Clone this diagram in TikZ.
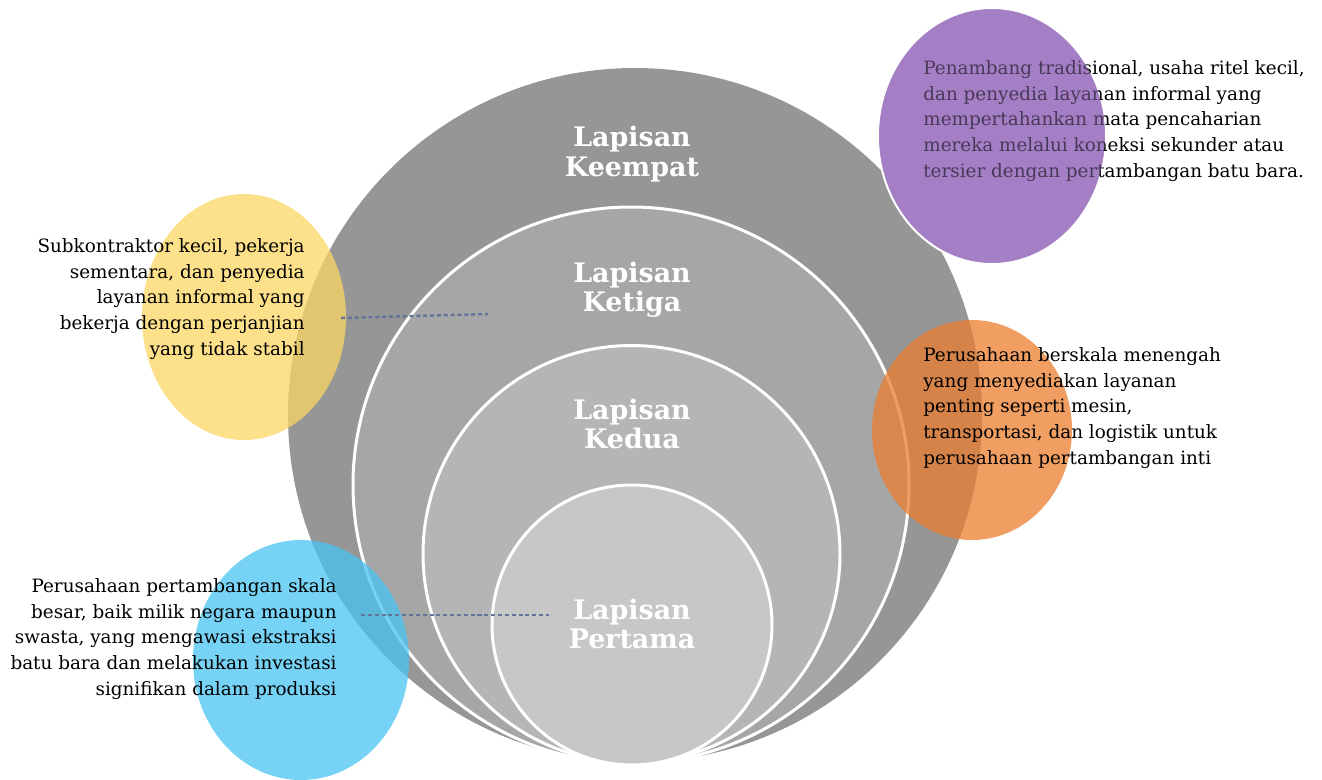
\documentclass[tikz,border=0pt]{standalone}
\usepackage{fontspec}
\setmainfont{DejaVu Serif}
\usetikzlibrary{positioning}
\definecolor{layerfour}{HTML}{969696}
\definecolor{layerthree}{HTML}{A6A6A6}
\definecolor{layertwo}{HTML}{B5B5B5}
\definecolor{layerone}{HTML}{C7C7C7}
\definecolor{yellowblob}{HTML}{FCD563}
\definecolor{blueblob}{HTML}{48C4F1}
\definecolor{orangeblob}{HTML}{EB7D2E}
\definecolor{purpleblob}{HTML}{A47FC5}
\definecolor{dashblue}{HTML}{64759A}
\tikzset{
  ring/.style={draw=white, line width=1.7pt},
  blob/.style={fill opacity=0.75},
  title/.style={text=white, align=center, font=\fontsize{15.3}{16.6}\selectfont\bfseries},
  desc/.style={font=\fontsize{10.45}{14.7}\selectfont},
  dashline/.style={draw=dashblue, line width=1.4pt, dash pattern=on 2.3pt off 1.6pt}
}
\begin{document}
\begin{tikzpicture}[x=0.02cm,y=-0.02cm]
    \tikzstyle{every node}+=[inner sep=0pt]
    \useasboundingbox (0,0) rectangle (1322,779);
    % layers
    \fill [layerfour] (635,415) circle (347);
    \draw [ring, fill=layerthree] (631,485) circle (278);
    \draw [ring, fill=layertwo] (631.5,554) circle (208.5);
    \draw [ring, fill=layerone] (632,625) circle (140);
    \node [title] (keempat) at (632,154) {Lapisan\\Keempat};
    \node [title] (ketiga) at (632,290) {Lapisan\\Ketiga};
    \node [title] (kedua) at (632,424) {Lapisan\\Kedua};
    \node [title] (pertama) at (632,624) {Lapisan\\Pertama};
    % blobs
    \fill [blob, yellowblob] (244,317) ellipse [x radius=102, y radius=123];
    \fill [blob, blueblob] (301,660) ellipse [x radius=108, y radius=120];
    \fill [blob, orangeblob] (972,430) ellipse [x radius=100, y radius=110];
    % connectors
    \coordinate (ystart) at (341,318);
    \coordinate (yend) at (488,314);
    \coordinate (bstart) at (361,615);
    \coordinate (bend) at (549,615);
    \draw [dashline] (ystart) -- (yend);
    \draw [dashline] (bstart) -- (bend);
    % descriptions
    \node [desc, align=right, anchor=east] (yellowtext) at (305,299)
      {Subkontraktor kecil, pekerja\\sementara, dan penyedia\\layanan informal yang\\bekerja dengan perjanjian\\yang tidak stabil};
    \node [desc, align=right, anchor=east] (bluetext) at (337,639)
      {Perusahaan pertambangan skala\\besar, baik milik negara maupun\\swasta, yang mengawasi ekstraksi\\batu bara dan melakukan investasi\\signifikan dalam produksi};
    \node [desc, align=left, anchor=west] (orangetext) at (923,408)
      {Perusahaan berskala menengah\\yang menyediakan layanan\\penting seperti mesin,\\transportasi, dan logistik untuk\\perusahaan pertambangan inti};
    \draw [white, line width=1.2pt, fill=purpleblob] (992,136) ellipse [x radius=114, y radius=128];
    \node [desc, align=left, anchor=west] (purpletext) at (923,121)
      {Penambang tradisional, usaha ritel kecil,\\dan penyedia layanan informal yang\\mempertahankan mata pencaharian\\mereka melalui koneksi sekunder atau\\tersier dengan pertambangan batu bara.};
    \fill [purpleblob, fill opacity=0.45] (992,136) ellipse [x radius=113, y radius=127];
\end{tikzpicture}
\end{document}
